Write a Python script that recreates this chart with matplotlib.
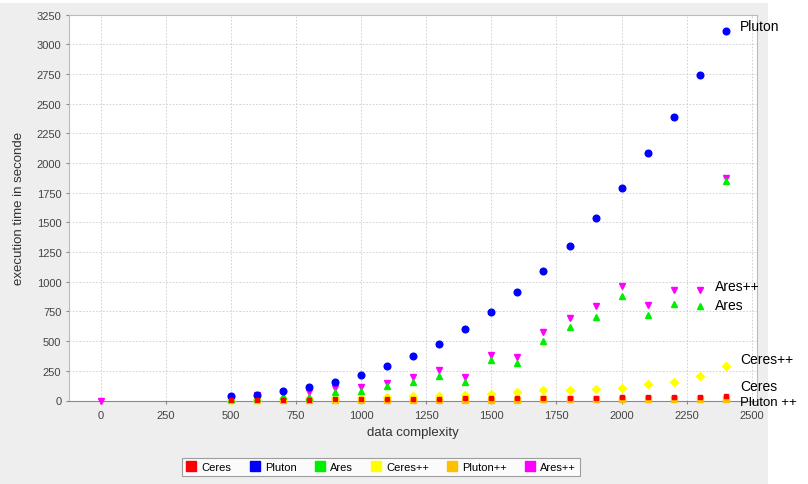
import matplotlib
matplotlib.use("Agg")
import matplotlib.pyplot as plt
from matplotlib.lines import Line2D
from matplotlib.patches import Rectangle

plt.rcParams['font.family'] = ['Liberation Sans', 'DejaVu Sans']

# data complexity (x) and execution time in seconds per series
x = [500, 600, 700, 800, 900, 1000, 1100, 1200, 1300, 1400,
     1500, 1600, 1700, 1800, 1900, 2000, 2100, 2200, 2300, 2400]
ceres = [5, 6, 7, 8, 9, 10, 12, 13, 15, 17,
         19, 21, 22, 24, 25, 26, 28, 30, 32, 34]
pluton = [35, 46, 83, 116, 159, 215, 288, 377, 478, 605,
          743, 911, 1088, 1303, 1534, 1789, 2084, 2390, 2741, 3109]
ares = [10, 18, 35, 30, 69, 80, 120, 153, 209, 158,
        344, 316, 501, 616, 706, 877, 720, 815, 793, 1850]
ceres_pp = [5, 7, 10, 13, 16, 19, 27, 35, 40, 46,
            55, 74, 86, 91, 97, 108, 136, 158, 204, 288]
pluton_pp = [2, 3, 3, 4, 4, 5, 5, 6, 6, 7,
             8, 8, 9, 10, 10, 11, 12, 13, 14, 15]
x_ares_pp = [0] + x
ares_pp = [0, 30, 46, 60, 69, 103, 116, 145, 195, 259, 200,
           383, 369, 574, 692, 793, 961, 804, 933, 933, 1870]

names = ['Ceres', 'Pluton', 'Ares', 'Ceres++', 'Pluton++', 'Ares++']
colors = ['#ff0000', '#0000ff', '#00ee00', '#ffff00', '#ffc000', '#ff00ff']

fig = plt.figure(figsize=(8.08, 4.85), dpi=100, facecolor='white')
fig.patches.append(Rectangle((0, 0), 768 / 808, 1 - 4 / 485, transform=fig.transFigure,
                             facecolor='#eeeeee', edgecolor='none', zorder=-10))
ax = fig.add_axes([69 / 808, 1 - 401.5 / 485, 688 / 808, 386 / 485])
ax.set_facecolor('white')

ax.plot(x_ares_pp, ares_pp, 'v', color=colors[5], ms=4.5, clip_on=False, zorder=3)
ax.plot(x, pluton_pp, 's', color=colors[4], ms=4, clip_on=False, zorder=3)
ax.plot(x, ceres_pp, 'D', color=colors[3], ms=3.8, clip_on=False, zorder=3)
ax.plot(x, ares, '^', color=colors[2], ms=4.5, clip_on=False, zorder=3)
ax.plot(x, pluton, 'o', color=colors[1], ms=4.8, clip_on=False, zorder=3)
ax.plot(x, ceres, 's', color=colors[0], ms=3.2, clip_on=False, zorder=3)

ax.set_xlim(-122, 2520)
ax.set_ylim(0, 3250)
ax.set_xticks(range(0, 2501, 250))
ax.set_yticks(range(0, 3251, 250))
ax.grid(True, color='#cccccc', linestyle=(0, (2, 2)), linewidth=0.6)
ax.set_axisbelow(True)
ax.tick_params(colors='#888888', labelcolor='#444444', labelsize=8, length=2)
ax.tick_params(axis='x', pad=5)
for s in ['top', 'right', 'left']:
    ax.spines[s].set_color('#bbbbbb')
ax.spines['bottom'].set_color('#888888')

ax.set_xlabel('data complexity', fontsize=9.5, color='#333333', labelpad=4)
ax.set_ylabel('execution time in seconde', fontsize=9.5, color='#333333', labelpad=8)

# series labels beside the last points
lbl = dict(fontsize=10, va='center', ha='left', clip_on=False, color='black')
ax.text(2455, 3153, 'Pluton', **lbl)
ax.text(2359, 964, 'Ares++', **lbl)
ax.text(2359, 804, 'Ares', **lbl)
ax.text(2455, 349, 'Ceres++', **lbl)
ax.text(2455, 120, 'Ceres', **lbl)
ax.text(2455, -12, 'Pluton ++', fontsize=9.5, va='center', ha='left', clip_on=False)

handles = [Line2D([], [], marker='s', linestyle='none', color=c, ms=7) for c in colors]
leg = fig.legend(handles, names, loc='center', bbox_to_anchor=(381 / 808, 1 - 468 / 485),
                 ncol=6, fontsize=8, frameon=True, fancybox=False, handletextpad=0.4,
                 columnspacing=1.6, borderpad=0.35, handlelength=1.0)
leg.get_frame().set_edgecolor('#888888')
leg.get_frame().set_linewidth(0.8)

fig.savefig('out.png', dpi=100)
